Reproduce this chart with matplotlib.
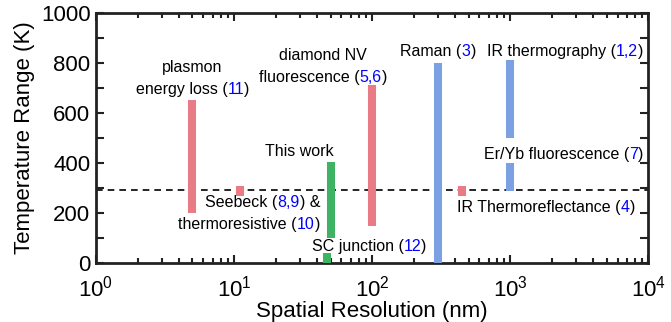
import matplotlib
matplotlib.use("Agg")
import matplotlib.pyplot as plt
from matplotlib.offsetbox import TextArea, HPacker, VPacker, AnnotationBbox
from matplotlib.ticker import MultipleLocator, LogLocator, NullFormatter

plt.rcParams['font.family'] = ['Liberation Sans', 'DejaVu Sans']
plt.rcParams['mathtext.fontset'] = 'custom'
plt.rcParams['mathtext.rm'] = 'Liberation Sans'

# measurement techniques: spatial resolution (nm) and temperature range (K)
resolution = [5, 11, 50, 47, 100, 300, 450, 1000, 1000]
t_low = [200, 270, 100, 0, 150, 0, 270, 500, 290]
t_high = [650, 310, 405, 40, 710, 800, 310, 810, 400]
kind = ['red', 'red', 'green', 'green', 'red', 'blue', 'red', 'blue', 'blue']
room_temp = 293

colors = {'red': '#E97B86', 'green': '#3DB363', 'blue': '#7CA1E3'}

# labels: list of lines, each line list of (text, is_ref)
labels = [
    ([[("plasmon", 0)], [("energy loss (", 0), ("11", 1), (")", 0)]], 5, 736, 'center'),
    ([[("diamond NV", 0)], [("fluorescence (", 0), ("5,6", 1), (")", 0)]], 44, 786, 'center'),
    ([[("This work", 0)]], 53, 444, 'right'),
    ([[("Seebeck (", 0), ("8,9", 1), (") &", 0)],
      [("thermoresistive (", 0), ("10", 1), (")", 0)]], 42, 198, 'right'),
    ([[("SC junction (", 0), ("12", 1), (")", 0)]], 36.5, 68, 'left'),
    ([[("Raman (", 0), ("3", 1), (")", 0)]], 301, 844, 'center'),
    ([[("IR thermography (", 0), ("1,2", 1), (")", 0)]], 680, 844, 'left'),
    ([[("Er/Yb fluorescence (", 0), ("7", 1), (")", 0)]], 9200, 432, 'right'),
    ([[("IR Thermoreflectance (", 0), ("4", 1), (")", 0)]], 413, 224, 'left'),
]

fig = plt.figure(figsize=(6.71, 3.22), dpi=100)
ax = fig.add_axes([0.143, 0.183, 0.823, 0.777])

for x, lo, hi, k in zip(resolution, t_low, t_high, kind):
    ax.vlines(x, lo, hi, color=colors[k], linewidth=5.8, capstyle='butt', zorder=3)

ax.axhline(room_temp, color='black', linestyle=(0, (4, 3)), linewidth=1.2, zorder=2)

for lines, x, y, align in labels:
    rows = []
    for line in lines:
        parts = [TextArea(t, textprops=dict(fontsize=11.5, color='blue' if ref else 'black'))
                 for t, ref in line]
        rows.append(HPacker(children=parts, align='baseline', pad=0, sep=0))
    box = VPacker(children=rows, align=align, pad=0, sep=5)
    bx = {'center': 0.5, 'right': 1.0, 'left': 0.0}[align]
    ab = AnnotationBbox(box, (x, y), xycoords='data', box_alignment=(bx, 0.5),
                        frameon=False, pad=0)
    ax.add_artist(ab)

ax.set_xscale('log')
ax.set_xlim(1, 1e4)
ax.set_ylim(0, 1000)
ax.yaxis.set_major_locator(MultipleLocator(200))
ax.yaxis.set_minor_locator(MultipleLocator(100))
ax.xaxis.set_major_locator(LogLocator(base=10, numticks=10))
ax.xaxis.set_minor_locator(LogLocator(base=10, subs=range(2, 10), numticks=20))
ax.xaxis.set_minor_formatter(NullFormatter())

for s in ax.spines.values():
    s.set_linewidth(2)
    s.set_color('#222222')
ax.tick_params(which='both', direction='in', top=True, right=True, width=1.5,
               color='#222222', labelsize=16)
ax.tick_params(which='major', length=6, pad=4)
ax.tick_params(axis='x', which='major', pad=9)
ax.tick_params(axis='x', which='minor', length=3.5)
ax.tick_params(axis='y', which='minor', length=6)

ax.set_xlabel('Spatial Resolution (nm)', fontsize=16, labelpad=0)
ax.set_ylabel('Temperature Range (K)', fontsize=16, labelpad=4)

fig.savefig('out.png', dpi=100)
